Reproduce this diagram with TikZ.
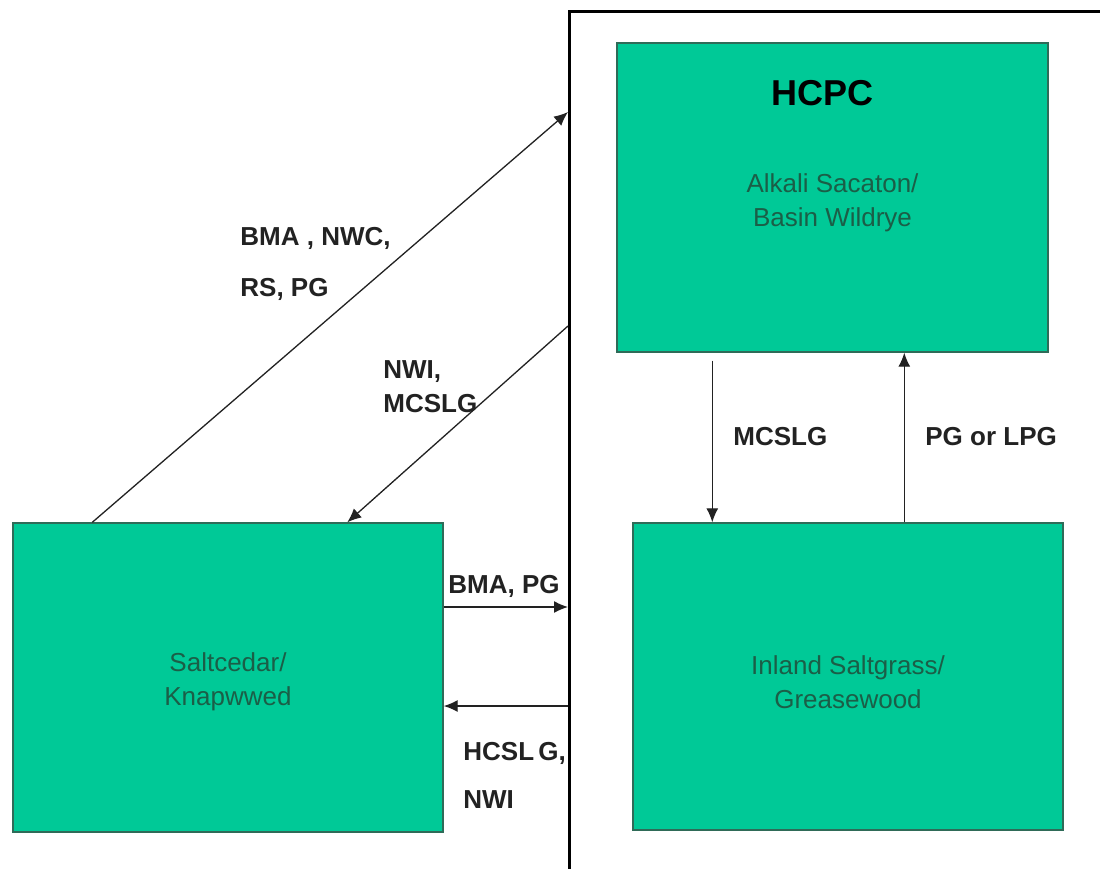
\documentclass[tikz,border=0pt]{standalone}
\usepackage{fontspec}
\setmainfont{Liberation Sans}
\usetikzlibrary{arrows.meta}
\definecolor{StateGreen}{HTML}{00C997}
\definecolor{StateEdge}{HTML}{2F6B58}
\definecolor{StateText}{HTML}{1B5E47}
\definecolor{LabelText}{HTML}{222222}
\tikzset{
	statebox/.style={draw=StateEdge, fill=StateGreen, line width=0.7pt, inner sep=0pt},
	statetext/.style={align=center, inner sep=0pt, text=StateText, font=\fontsize{13}{17}\selectfont},
	flow/.style={-{Latex[length=7pt,width=6pt]}, line width=0.65pt, draw=LabelText},
	flowlabel/.style={anchor=base west, inner sep=0pt, text=LabelText, font=\bfseries\fontsize{13}{15}\selectfont},
}

\begin{document}
\begin{tikzpicture}[x=0.5pt,y=-0.5pt]
	\useasboundingbox (0,0) rectangle (1100,869);
	\clip (0,0) rectangle (1100,869);
	\fill[white] (0,0) rectangle (1100,869);

	% Frame round the right-hand states
	\node[draw=black, line width=1.5pt, anchor=north west, minimum width=300pt, minimum height=450pt, inner sep=0pt] (frame) at (568,10) {};

	% States
	\node[statebox, minimum width=215.5pt, minimum height=154.5pt] (hcpc) at (832.5,197.5) {};
	\node[font=\bfseries\fontsize{18}{20}\selectfont, text=black] (hcpctitle) at (823,93) {HCPC};
	\node[statetext] (hcpctext) at ([yshift=-2.5pt]hcpc.center) {Alkali Sacaton/\\Basin Wildrye};
	\node[statebox, minimum width=215pt, minimum height=153.5pt] (isg) at (848,676.5) {};
	\node[statetext] (isgtext) at ([yshift=-3pt]isg.center) {Inland Saltgrass/\\Greasewood};
	\node[statebox, minimum width=215pt, minimum height=154.5pt] (sk) at (228,677.5) {};
	\node[statetext] (sktext) at ([yshift=-2pt]sk.center) {Saltcedar/\\Knapwwed};

	% Points where connectors meet the frame
	\coordinate (toframe) at (568,112);
	\coordinate (fromframe) at (568,326);
	\coordinate (intoframe) at (568,607);
	\coordinate (outframe) at (568,706);
	\coordinate (down) at ([xshift=48pt]hcpc.south west);
	\coordinate (up) at ([xshift=136pt]isg.north west);

	% Connectors
	\draw[flow] ([xshift=40pt]sk.north west) -- (toframe);
	\draw[flow] (fromframe) -- ([xshift=167.5pt]sk.north west);
	\draw[flow] (sk.east |- intoframe) -- (intoframe);
	\draw[flow] (outframe) -- (sk.east |- outframe);
	\draw[flow, shorten <=4pt] (down) -- (down |- isg.north);
	\draw[flow] (up) -- (up |- hcpc.south);

	% Connector labels
	\node[flowlabel] (lbmanwc) at (240,245) {BMA , NWC,};
	\node[flowlabel] (lrspg) at (240,296) {RS, PG};
	\node[flowlabel] (lnwi) at (383,378) {NWI,};
	\node[flowlabel] (lmcslg) at (383,412) {MCSLG};
	\node[flowlabel] (lbmapg) at (448,593) {BMA, PG};
	\node[flowlabel] (lhcslg) at (463,760) {HCSL\,G,};
	\node[flowlabel] (lnwiback) at (463,808) {NWI};
	\node[flowlabel] (ldown) at (733,445) {MCSLG};
	\node[flowlabel] (lup) at (925,445) {PG or LPG};
\end{tikzpicture}
\end{document}
